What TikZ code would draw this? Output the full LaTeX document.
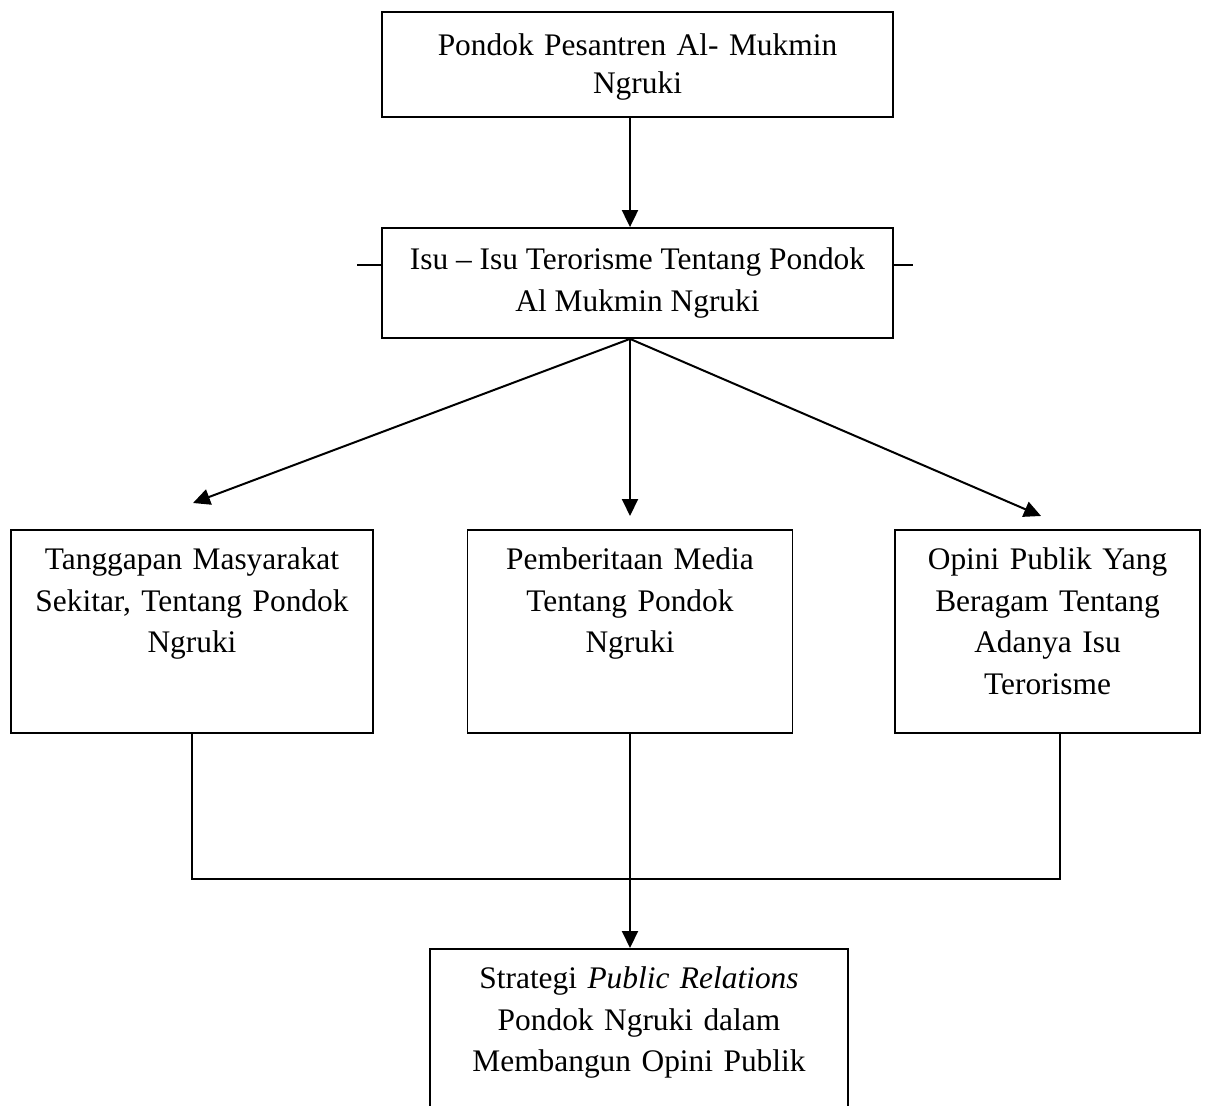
\documentclass[tikz,border=0pt]{standalone}
\usepackage{fontspec}
\setmainfont{Liberation Serif}
\usetikzlibrary{arrows.meta}

\tikzset{
  box/.style={draw, line width=0.9pt, align=center, inner sep=0pt,
    font=\fontsize{15.7}{20.7}\selectfont},
  lowbox/.style={box, anchor=north, text height=20pt, text depth=81.5pt},
  arr/.style={line width=1pt, -{Triangle[length=8.5pt,width=8pt]}},
  link/.style={line width=0.9pt}
}

\begin{document}
\begin{tikzpicture}[x=0.5pt, y=-0.5pt]
    \clip (0,0) rectangle (1208,1106);

    % upper boxes
    \node[box, font=\fontsize{15.7}{19}\selectfont, anchor=north,
          minimum width=255.5pt, text width=249pt,
          text height=22pt, text depth=30.5pt] (pondok) at (637.5,11)
        {Pondok Pesantren Al- Mukmin\\Ngruki};
    \node[box, minimum width=255.5pt, minimum height=55pt] (isu) at (637.5,283)
        {Isu -- Isu Terorisme Tentang Pondok\\Al Mukmin Ngruki};

    % three responses
    \node[lowbox, minimum width=181pt, text width=175pt] (tanggapan) at (192,529)
        {Tanggapan Masyarakat\\Sekitar, Tentang Pondok\\Ngruki};
    \node[lowbox, minimum width=162.5pt, text width=156pt] (berita) at (630,529)
        {Pemberitaan Media\\Tentang Pondok\\Ngruki};
    \node[lowbox, minimum width=152.5pt, text width=147pt] (opini) at (1047.5,529)
        {Opini Publik Yang\\Beragam Tentang\\Adanya Isu\\Terorisme};

    % result box, runs off the page
    \node[box, anchor=north, minimum width=209pt, text width=203pt,
          text height=20pt, text depth=200pt] (strategi) at (639,948)
        {Strategi \textit{Public Relations}\\Pondok Ngruki dalam\\Membangun Opini Publik};

    \coordinate (spine) at (630,283);
    \coordinate (tipL) at (193,503);
    \coordinate (tipM) at (630,516);
    \coordinate (tipR) at (1041,516);
    \coordinate (merge) at (630,879);
    \coordinate (rline) at (1060,732);

    \draw[arr] (pondok.south -| spine) -- (isu.north -| spine);
    \draw[arr] (isu.south -| spine) -- (tipL);
    \draw[arr] (isu.south -| spine) -- (tipM);
    \draw[arr] (isu.south -| spine) -- (tipR);

    % stray ticks beside the issue box
    \draw[link] ([yshift=-19pt]isu.north west) -- ++(-24,0);
    \draw[link] ([yshift=-19pt]isu.north east) -- ++(19,0);

    \draw[link] (tanggapan.south) |- (merge) -| (rline);
    \draw[arr] (berita.south) -- (berita.south |- strategi.north);

\end{tikzpicture}
\end{document}
